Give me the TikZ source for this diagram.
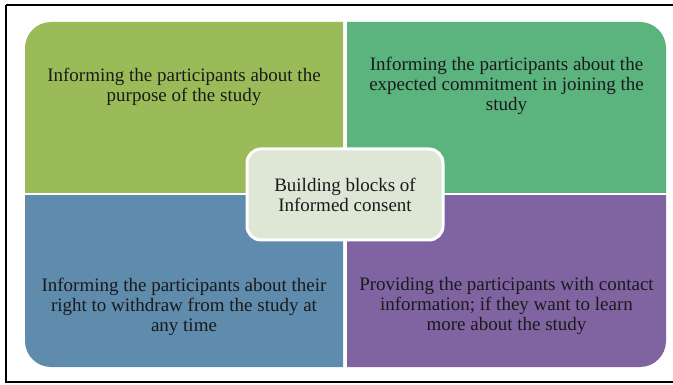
\documentclass[tikz,border=0pt]{standalone}
\usepackage{fontspec}
\setmainfont{Liberation Serif}
\definecolor{olivegreen}{HTML}{9BBB59}
\definecolor{seagreen}{HTML}{5BB37E}
\definecolor{steelblue}{HTML}{5F8BAC}
\definecolor{lavender}{HTML}{8064A2}
\definecolor{palesage}{HTML}{DEE6D5}
\definecolor{inktext}{HTML}{1A1A1A}
\begin{document}
\begin{tikzpicture}[x=1pt,y=-1pt,
  celltext/.style={align=center,text=inktext,font=\fontsize{19}{20}\selectfont,inner sep=0pt},
  hubbox/.style={draw=white,line width=3pt,fill=palesage,rounded corners=14pt,
    minimum width=196pt,minimum height=91pt,align=center,text=inktext,
    font=\fontsize{19}{20}\selectfont}]
\useasboundingbox (0,0) rectangle (673,385);
\fill[white] (0,0) rectangle (673,385);
% frame (its right side runs past the page edge)
\begin{scope}
  \clip (0,0) rectangle (673,385);
  \draw[line width=2pt] (6,5) -- (690,5) (6,5) -- (6,382) -- (690,382);
\end{scope}
% four quadrants, each rounded only at its outer corner
\begin{scope}
  \clip (25,22) rectangle (343,193);
  \fill[olivegreen,rounded corners=26pt] (25,22) rectangle (400,260);
\end{scope}
\begin{scope}
  \clip (347,22) rectangle (666,193);
  \fill[seagreen,rounded corners=26pt] (290,22) rectangle (666,260);
\end{scope}
\begin{scope}
  \clip (25,196) rectangle (343,367);
  \fill[steelblue,rounded corners=26pt] (25,130) rectangle (400,367);
\end{scope}
\begin{scope}
  \clip (347,196) rectangle (666,367);
  \fill[lavender,rounded corners=26pt] (290,130) rectangle (666,367);
\end{scope}
% quadrant texts
\node[celltext] (purpose) at (184,87) {Informing the participants about the\\purpose of the study};
\node[celltext] (commit) at (506.5,86) {Informing the participants about the\\expected commitment in joining the\\study};
\node[celltext] (withdraw) at (184,306.5) {Informing the participants about their\\right to withdraw from the study at\\any time};
\node[celltext] (contact) at (506.5,306) {Providing the participants with contact\\information; if they want to learn\\more about the study};
% central hub
\node[hubbox] (hub) at (345,194.5) {Building blocks of\\Informed consent};
\end{tikzpicture}
\end{document}
